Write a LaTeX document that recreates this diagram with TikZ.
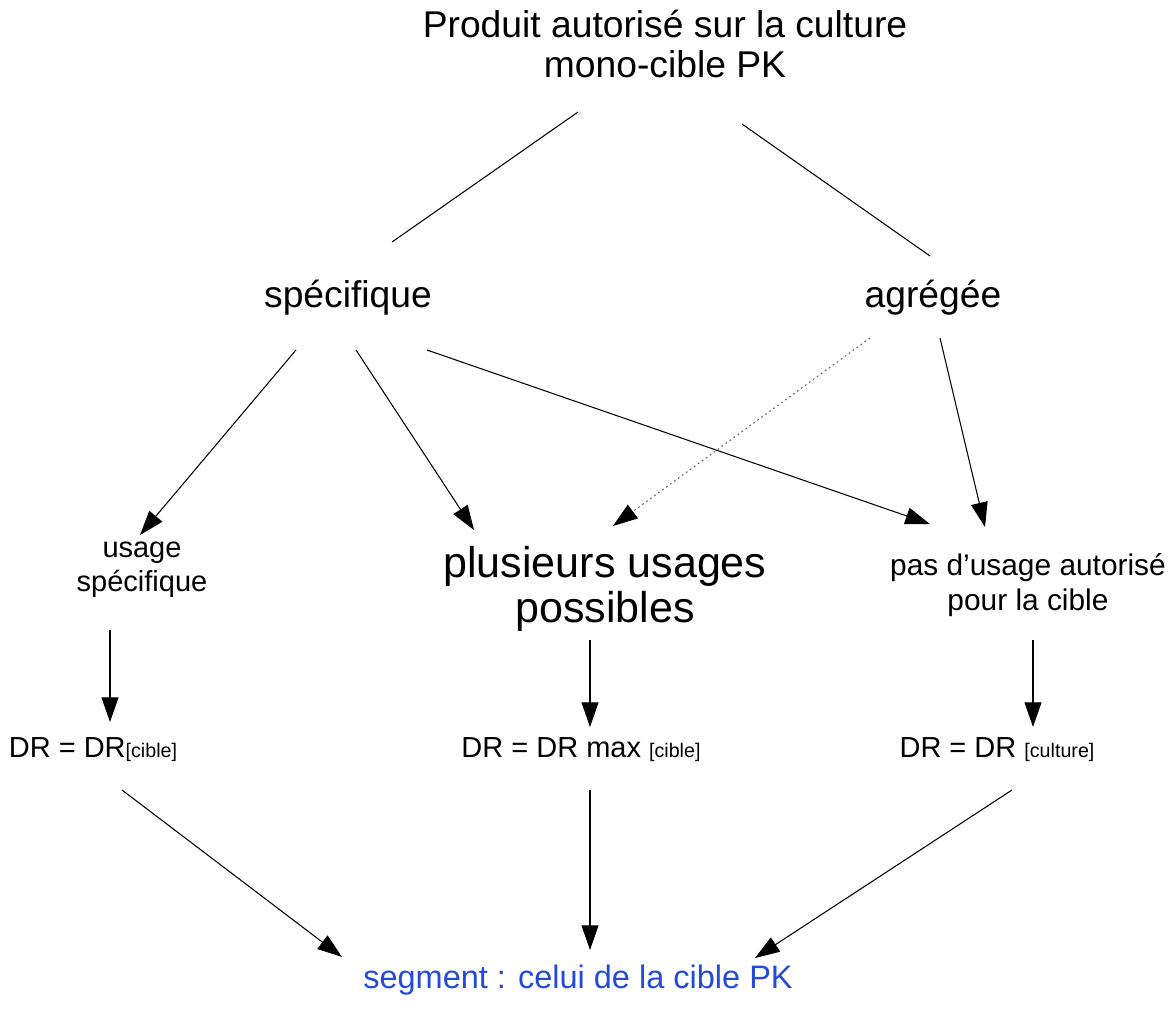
\documentclass[tikz,border=0pt]{standalone}
\usepackage{fontspec}
\setmainfont{Liberation Sans}
\usetikzlibrary{calc,arrows.meta}
\definecolor{bleuseg}{RGB}{35,75,215}
\newcommand{\grand}{\fontsize{21.2}{23}\selectfont}
\newcommand{\plusgrand}{\fontsize{24.5}{26}\selectfont}
\newcommand{\moyen}{\fontsize{16.5}{19.5}\selectfont}
\newcommand{\indice}{\fontsize{11.2}{12}\selectfont}
\tikzset{
  trait/.style={draw,line width=.6pt},
  fleche/.style={trait,-{Triangle[length=14pt,width=9.6pt,color=black]}},
  pointille/.style={fleche,draw=black!60,dash pattern=on 1pt off 1.8pt},
}
\begin{document}
\begin{tikzpicture}[x=0.02cm,y=-0.02cm]
\useasboundingbox (0,0) rectangle (1174,1009);
\node[align=center,font=\grand] (titre) at (665,44) {Produit autorisé sur la culture\\mono-cible PK};
\node[font=\grand,anchor=base] (spec) at (348,307) {spécifique};
\node[font=\grand,anchor=base] (agreg) at (933,307) {agrégée};

\node[align=center,font=\moyen] (usage) at (142,570) {usage\\spécifique};
\node[align=center,font=\plusgrand] (plus) at (605,589) {plusieurs usages\\possibles};
\node[align=center,font=\fontsize{17}{19.5}\selectfont] (pas) at (1028,585) {pas d’usage autorisé\\pour la cible};

\node[font=\moyen,anchor=base] (drcible) at (93,757) {DR = DR{\indice[cible]}};
\node[font=\moyen,anchor=base] (drmax) at (581,757) {DR = DR max {\indice[cible]}};
\node[font=\moyen,anchor=base] (drcult) at (997,757) {DR = DR {\indice[culture]}};

\node[font=\fontsize{18.5}{21}\selectfont,text=bleuseg,anchor=base] (seg) at (578,988) {segment : celui de la cible PK};

% branches du haut
\path[trait] ($(titre)+(-87,68)$) -- ($(spec.base)+(44,-65)$);
\path[trait] ($(titre)+(77,80)$) -- ($(agreg.base)+(-3,-51)$);

% vers les usages
\path[fleche] ($(spec.base)+(-52,43)$) -- ($(usage)+(-2,-35)$);
\path[fleche] ($(spec.base)+(8,43)$) -- ($(plus)+(-131,-59)$);
\path[fleche] ($(spec.base)+(79,43)$) -- ($(pas)+(-98,-61)$);
\path[pointille] ($(agreg.base)+(-63,31)$) -- ($(plus)+(8,-63)$);
\path[fleche] ($(agreg.base)+(7,31)$) -- ($(pas)+(-43,-58)$);

% vers les DR
\path[fleche] ($(usage)+(-32,60)$) -- ($(drcible.base)+(17,-35)$);
\path[fleche] ($(plus)+(-15,51)$) -- ($(drmax.base)+(9,-30)$);
\path[fleche] ($(pas)+(5,55)$) -- ($(drcult.base)+(36,-30)$);

% vers le segment
\path[fleche] ($(drcible.base)+(29,33)$) -- ($(seg.base)+(-236,-31)$);
\path[fleche] ($(drmax.base)+(9,33)$) -- ($(seg.base)+(12,-38)$);
\path[fleche] ($(drcult.base)+(15,33)$) -- ($(seg.base)+(177,-30)$);
\end{tikzpicture}
\end{document}
